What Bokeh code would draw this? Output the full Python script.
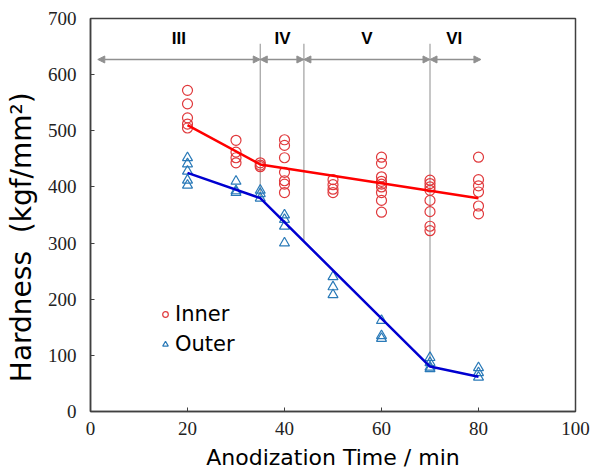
from bokeh.plotting import figure
from bokeh.models import Arrow, NormalHead, Legend, LegendItem, FixedTicker
from bokeh.core.properties import value
from bokeh.embed import file_html
from bokeh.resources import INLINE

# ---- data ----
inner_times = [20, 30, 35, 40, 50, 60, 70, 80]
inner_values = [
    [572, 548, 523, 512, 505],
    [483, 462, 452, 443],
    [443, 439, 436],
    [484, 474, 452, 426, 411, 405, 390],
    [413, 404, 396, 390],
    [453, 442, 418, 410, 405, 400, 390, 376, 355],
    [412, 406, 400, 394, 376, 356, 330, 322],
    [453, 413, 402, 391, 366, 352],
]
outer_times = [20, 30, 35, 40, 50, 60, 70, 80]
outer_values = [
    [452, 441, 428, 412, 403],
    [410, 393, 390],
    [394, 388, 380],
    [350, 342, 330, 300],
    [240, 222, 208],
    [162, 135, 130],
    [96, 87, 79, 76],
    [78, 69, 61],
]
inner_fit_x = [20, 35, 80]
inner_fit_y = [510, 440, 380]
outer_fit_x = [20, 35, 70, 80]
outer_fit_y = [425, 380, 80, 62]

region_labels = ["III", "IV", "V", "VI"]
region_label_x = [18.2, 39.6, 57, 75]
region_start = [1.5, 35, 44, 70]
region_end = [35, 44, 70, 80.5]
boundary_x = [35, 44, 70]
boundary_bottom = [380, 305, 82]
boundary_top = 655
arrow_y = 627
label_y = 664

x_ticks = [0, 20, 40, 60, 80, 100]
y_ticks = [0, 100, 200, 300, 400, 500, 600, 700]

ix = [t for t, vs in zip(inner_times, inner_values) for _ in vs]
iy = [v for vs in inner_values for v in vs]
ox = [t for t, vs in zip(outer_times, outer_values) for _ in vs]
oy = [v for vs in outer_values for v in vs]

p = figure(width=597, height=472, x_range=(0, 100), y_range=(0, 700),
           output_backend="svg", toolbar_location=None,
           min_border_left=90, min_border_right=22, min_border_top=18, min_border_bottom=60)
p.xgrid.visible = False
p.ygrid.visible = False
p.outline_line_color = "#404040"
p.outline_line_width = 1.5

for ax in (p.xaxis[0], p.yaxis[0]):
    ax.major_tick_in = 4
    ax.major_tick_out = 0
    ax.minor_tick_line_color = None
    ax.axis_line_color = "#404040"
    ax.axis_line_width = 1.5
    ax.major_tick_line_color = "#404040"
    ax.major_label_text_font = "Liberation Sans Narrow"
    ax.major_label_text_font_size = "19px"
    ax.major_label_text_color = "#222222"
    ax.axis_label_text_font = "DejaVu Sans"
    ax.axis_label_text_font_style = "normal"
    ax.axis_label_text_color = "#000000"

p.xaxis.ticker = FixedTicker(ticks=x_ticks)
p.yaxis.ticker = FixedTicker(ticks=y_ticks)
p.xaxis.major_label_standoff = 10
p.yaxis.major_label_standoff = 14
p.xaxis.axis_label = "Anodization Time / min"
p.xaxis.axis_label_text_font_size = "22px"
p.xaxis.axis_label_standoff = 7
p.yaxis.axis_label = "Hardness\u00a0\u00a0(kgf/mm\u00b2)" + "\u00a0" * 5
p.yaxis.axis_label_text_font_size = "28px"
p.yaxis.axis_label_standoff = 7

# boundaries
p.segment(x0=boundary_x, y0=[boundary_top] * len(boundary_x), x1=boundary_x, y1=boundary_bottom,
          line_color="#a0a0a0", line_width=1.2)

# region arrows
for s, e in zip(region_start, region_end):
    p.add_layout(Arrow(x_start=s, y_start=arrow_y, x_end=e, y_end=arrow_y,
                       line_color="#909090", line_width=1.5,
                       start=NormalHead(size=7, fill_color="#909090", line_color="#909090"),
                       end=NormalHead(size=7, fill_color="#909090", line_color="#909090")))

p.text(x=region_label_x, y=[label_y] * len(region_labels), text=region_labels,
       text_font=value("Liberation Sans"), text_font_style="bold", text_font_size="17px",
       text_align="center", text_baseline="middle", text_color="#000000")

# data
r_in = p.scatter(ix, iy, marker="circle", size=10, fill_color=None, line_color="#e0393c", line_width=1.2)
r_out = p.scatter(ox, oy, marker="triangle", size=10, fill_color=None, line_color="#2a7ab8", line_width=1.2)

p.line(inner_fit_x, inner_fit_y, line_color="#ff0000", line_width=2.5)
p.line(outer_fit_x, outer_fit_y, line_color="#0000d0", line_width=2.5)

legend = Legend(items=[LegendItem(label="Inner", renderers=[r_in]),
                       LegendItem(label="Outer", renderers=[r_out])],
                location=(68, 55), padding=0, margin=0, spacing=6,
                glyph_height=20, glyph_width=14, label_standoff=3, label_height=20,
                label_text_font="DejaVu Sans", label_text_font_size="21px",
                label_text_color="#000000",
                border_line_color=None, background_fill_alpha=0)
p.add_layout(legend)

open("out.html", "w").write(file_html(p, INLINE))
